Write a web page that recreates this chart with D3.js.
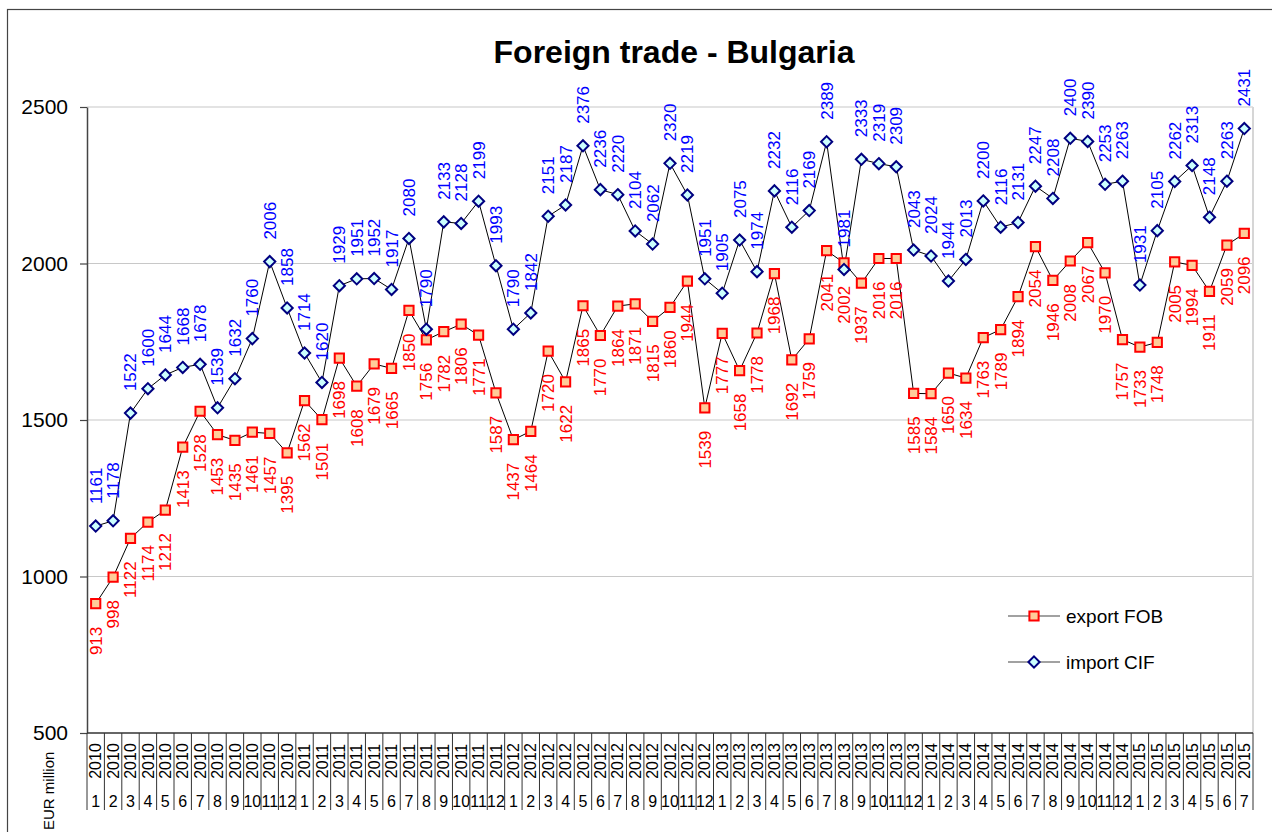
<!DOCTYPE html>
<html>
<head>
<meta charset="utf-8">
<script src="https://cdn.jsdelivr.net/npm/d3@7"></script>
<style>
  body { margin: 0; background: #fff; }
  text { font-family: Arial, "Liberation Sans", sans-serif; }
</style>
</head>
<body>
<div id="chart"></div>
<script>
// data
var years  = ["2010","2011","2012","2013","2014","2015"];
var months = [1,2,3,4,5,6,7,8,9,10,11,12];

var exportFOB = [
  913, 998, 1122, 1174, 1212, 1413, 1528, 1453, 1435, 1461, 1457, 1395,
  1562, 1501, 1698, 1608, 1679, 1665, 1850, 1756, 1782, 1806, 1771, 1587,
  1437, 1464, 1720, 1622, 1865, 1770, 1864, 1871, 1815, 1860, 1944, 1539,
  1777, 1658, 1778, 1968, 1692, 1759, 2041, 2002, 1937, 2016, 2016, 1585,
  1584, 1650, 1634, 1763, 1789, 1894, 2054, 1946, 2008, 2067, 1970, 1757,
  1733, 1748, 2005, 1994, 1911, 2059, 2096
];
var importCIF = [
  1161, 1178, 1522, 1600, 1644, 1668, 1678, 1539, 1632, 1760, 2006, 1858,
  1714, 1620, 1929, 1951, 1952, 1917, 2080, 1790, 2133, 2128, 2199, 1993,
  1790, 1842, 2151, 2187, 2376, 2236, 2220, 2104, 2062, 2320, 2219, 1951,
  1905, 2075, 1974, 2232, 2116, 2169, 2389, 1981, 2333, 2319, 2309, 2043,
  2024, 1944, 2013, 2200, 2116, 2131, 2247, 2208, 2400, 2390, 2253, 2263,
  1931, 2105, 2262, 2313, 2148, 2263, 2431
];
var yTicks = [500, 1000, 1500, 2000, 2500];

// categories: year / month pairs
var cats = [];
years.forEach(function(yr) {
  months.forEach(function(m) {
    if (cats.length < exportFOB.length) cats.push({year: yr, month: m});
  });
});
cats.forEach(function(c, i) { c.i = i; c.exp = exportFOB[i]; c.imp = importCIF[i]; });

var W = 1272, H = 832;
var margin = {top: 107, right: 19, bottom: 99, left: 87},
    width = W - margin.left - margin.right,
    height = H - margin.top - margin.bottom;

var svg = d3.select("#chart")
  .append("svg")
    .attr("width", W)
    .attr("height", H);

// outer chart border (runs off the right and bottom)
svg.append("rect")
  .attr("x", 7.5).attr("y", 9.5)
  .attr("width", 1400).attr("height", 1000)
  .attr("fill", "none")
  .attr("stroke", "#444")
  .attr("stroke-width", 1.2);

svg.append("text")
  .attr("x", 674).attr("y", 63)
  .attr("text-anchor", "middle")
  .style("font-size", "32px")
  .style("font-weight", "bold")
  .text("Foreign trade - Bulgaria");

var g = svg.append("g")
  .attr("transform", "translate(" + margin.left + "," + margin.top + ")");

var x = d3.scaleBand()
  .domain(cats.map(function(d) { return d.i; }))
  .range([0, width]);
var cx = function(i) { return x(i) + x.bandwidth() / 2; };

var y = d3.scaleLinear()
  .domain([500, 2500])
  .range([height, 0]);

// gridlines
g.append("g")
  .selectAll("line")
  .data(yTicks.slice(1))
  .join("line")
    .attr("x1", 0).attr("x2", width)
    .attr("y1", function(d) { return y(d); })
    .attr("y2", function(d) { return y(d); })
    .attr("stroke", "#c8c8c8")
    .attr("stroke-width", 1.2);

// plot area right border
g.append("line")
  .attr("x1", width).attr("x2", width)
  .attr("y1", 0).attr("y2", height)
  .attr("stroke", "#d6d6d6")
  .attr("stroke-width", 2);

// Y axis
var yAxis = g.append("g")
  .call(d3.axisLeft(y).tickValues(yTicks).tickFormat(d3.format("d"))
    .tickSize(7).tickPadding(12).tickSizeOuter(0));
yAxis.select(".domain").attr("stroke", "#444").attr("stroke-width", 1.5);
yAxis.selectAll(".tick line").attr("stroke", "#444").attr("stroke-width", 1.2);
yAxis.selectAll(".tick text")
  .style("font-size", "21px")
  .style("font-family", "Arial, 'Liberation Sans', sans-serif")
  .attr("fill", "#000");

// X axis: baseline, separators, year + month labels
var xa = g.append("g").attr("transform", "translate(0," + height + ")");
xa.append("line")
  .attr("x1", 0).attr("x2", width)
  .attr("stroke", "#333").attr("stroke-width", 1.5);
xa.selectAll("line.sep")
  .data(cats.map(function(d) { return x(d.i); }).concat([width]))
  .join("line")
    .attr("class", "sep")
    .attr("x1", function(d) { return d; })
    .attr("x2", function(d) { return d; })
    .attr("y1", 0).attr("y2", 77)
    .attr("stroke", "#333").attr("stroke-width", 1);
xa.selectAll("text.yr")
  .data(cats)
  .join("text")
    .attr("class", "yr")
    .attr("transform", function(d) { return "translate(" + cx(d.i) + ",28) rotate(-90)"; })
    .attr("text-anchor", "middle")
    .attr("dy", "0.35em")
    .style("font-size", "16px")
    .text(function(d) { return d.year; });
xa.selectAll("text.mo")
  .data(cats)
  .join("text")
    .attr("class", "mo")
    .attr("x", function(d) { return cx(d.i); })
    .attr("y", 74)
    .attr("text-anchor", "middle")
    .style("font-size", "16px")
    .text(function(d) { return d.month; });

// axis title, sits at the bottom left
svg.append("text")
  .attr("transform", "translate(49,830) rotate(-90)")
  .attr("text-anchor", "start")
  .attr("dy", "0.35em")
  .style("font-size", "15px")
  .text("EUR million");

var line = function(key) {
  return d3.line()
    .x(function(d) { return cx(d.i); })
    .y(function(d) { return y(d[key]); });
};

// export line
g.append("path")
  .datum(cats)
  .attr("fill", "none")
  .attr("stroke", "#000")
  .attr("stroke-width", 1)
  .attr("d", line("exp"));
// import line
g.append("path")
  .datum(cats)
  .attr("fill", "none")
  .attr("stroke", "#000")
  .attr("stroke-width", 1)
  .attr("d", line("imp"));

var square = d3.symbol().type(d3.symbolSquare).size(85)();
var diamond = "M0,-5.6L5.6,0L0,5.6L-5.6,0Z";

// markers
g.selectAll("path.exp")
  .data(cats)
  .join("path")
    .attr("class", "exp")
    .attr("transform", function(d) { return "translate(" + cx(d.i) + "," + y(d.exp) + ")"; })
    .attr("d", square)
    .attr("fill", "#ffcc99")
    .attr("stroke", "#ff0000")
    .attr("stroke-width", 2);
g.selectAll("path.imp")
  .data(cats)
  .join("path")
    .attr("class", "imp")
    .attr("transform", function(d) { return "translate(" + cx(d.i) + "," + y(d.imp) + ")"; })
    .attr("d", diamond)
    .attr("fill", "#ccffff")
    .attr("stroke", "#000080")
    .attr("stroke-width", 2);

// data labels
g.selectAll("text.lexp")
  .data(cats)
  .join("text")
    .attr("class", "lexp")
    .attr("transform", function(d) { return "translate(" + cx(d.i) + "," + (y(d.exp) + 23) + ") rotate(-90)"; })
    .attr("text-anchor", "end")
    .attr("dy", "0.35em")
    .attr("fill", "#ff0000")
    .style("font-size", "17px")
    .text(function(d) { return d.exp; });
g.selectAll("text.limp")
  .data(cats)
  .join("text")
    .attr("class", "limp")
    .attr("transform", function(d) { return "translate(" + cx(d.i) + "," + (y(d.imp) - 22) + ") rotate(-90)"; })
    .attr("text-anchor", "start")
    .attr("dy", "0.35em")
    .attr("fill", "#0000ff")
    .style("font-size", "17px")
    .text(function(d) { return d.imp; });

// legend
var legend = [
  {name: "export FOB", y: 616, mark: square, fill: "#ffcc99", stroke: "#ff0000"},
  {name: "import CIF", y: 662, mark: diamond, fill: "#ccffff", stroke: "#000080"}
];
var lg = svg.append("g").selectAll("g")
  .data(legend)
  .join("g")
    .attr("transform", function(d) { return "translate(0," + d.y + ")"; });
lg.append("line")
  .attr("x1", 1008).attr("x2", 1060)
  .attr("stroke", "#444").attr("stroke-width", 1.2);
lg.append("path")
  .attr("transform", "translate(1034,0)")
  .attr("d", function(d) { return d.mark; })
  .attr("fill", function(d) { return d.fill; })
  .attr("stroke", function(d) { return d.stroke; })
  .attr("stroke-width", 2);
lg.append("text")
  .attr("x", 1066)
  .attr("dy", "0.35em")
  .style("font-size", "19px")
  .text(function(d) { return d.name; });
</script>
</body>
</html>
